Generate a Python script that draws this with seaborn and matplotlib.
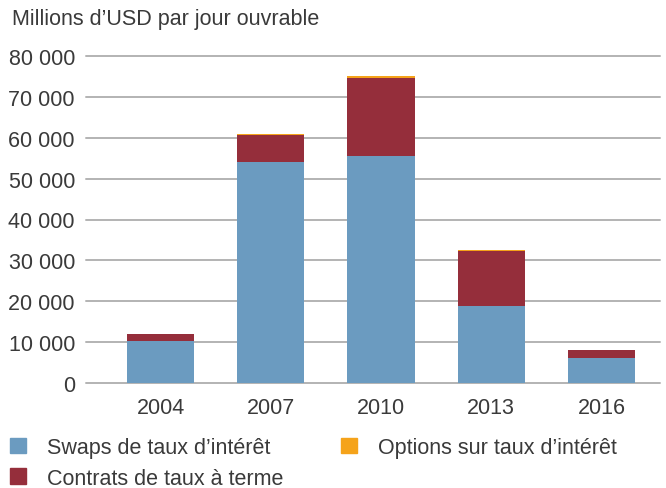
import pandas as pd
import matplotlib.pyplot as plt
import seaborn as sns

# data (millions USD per business day)
years = ["2004", "2007", "2010", "2013", "2016"]
swaps = [10300, 54100, 55600, 18900, 6200]
contrats = [1700, 6500, 19100, 13500, 1800]
options = [30, 250, 300, 200, 120]

labels = ["Swaps de taux d’intérêt", "Contrats de taux à terme", "Options sur taux d’intérêt"]
colors = ["#6b9bc0", "#952e3b", "#f5a31a"]

df = pd.DataFrame({"Year": years, "swaps": swaps, "contrats": contrats, "options": options})
df["lvl1"] = df["swaps"]
df["lvl2"] = df["swaps"] + df["contrats"]
df["lvl3"] = df["lvl2"] + df["options"]

sns.set_style("white")
plt.rcParams["font.family"] = ["Liberation Sans", "DejaVu Sans"]
txt = "#3a3a3a"
fs = 15.5

fig = plt.figure(figsize=(6.66, 4.89), dpi=100)
ax = fig.add_axes([86 / 666, 105 / 489, 574 / 666, 327 / 489])

# draw cumulative totals back to front
for col, c in zip(["lvl3", "lvl2", "lvl1"], colors[::-1]):
    sns.barplot(data=df, x="Year", y=col, order=years, color=c, width=0.61,
                saturation=1, ax=ax, zorder=3, linewidth=0, edgecolor="none")

ax.set_xlim(-0.676, 4.53)
ax.set_ylim(0, 80000)
ax.set_yticks(range(0, 80001, 10000))
ax.set_yticklabels([f"{v:,}".replace(",", " ") for v in range(0, 80001, 10000)])
ax.yaxis.grid(True, color="#b3b3b3", linewidth=1.4, zorder=0)
for gl in ax.get_ygridlines():
    gl.set_clip_on(False)
ax.set_axisbelow(True)
for s in ax.spines.values():
    s.set_visible(False)
ax.tick_params(axis="y", length=0, pad=8, labelsize=fs, labelcolor=txt)
ax.tick_params(axis="x", length=0, pad=10, labelsize=fs, labelcolor=txt)
ax.set_xlabel("")
ax.set_ylabel("")

fig.text(12 / 666, 1 - 20 / 489, "Millions d’USD par jour ouvrable", fontsize=fs,
         color=txt, va="center", ha="left")

handles = [plt.Rectangle((0, 0), 1, 1, color=c) for c in colors]
# column 1 = swaps, contrats ; column 2 = options
leg = fig.legend(handles, labels, ncol=2, loc="upper left",
                 bbox_to_anchor=(10 / 666, 1 - 438 / 489), frameon=False,
                 fontsize=fs, labelcolor=txt, handlelength=0.74, handleheight=0.74,
                 handletextpad=1.0, columnspacing=2.65, labelspacing=0.45,
                 borderaxespad=0, borderpad=0)

fig.savefig("out.png", dpi=100)
